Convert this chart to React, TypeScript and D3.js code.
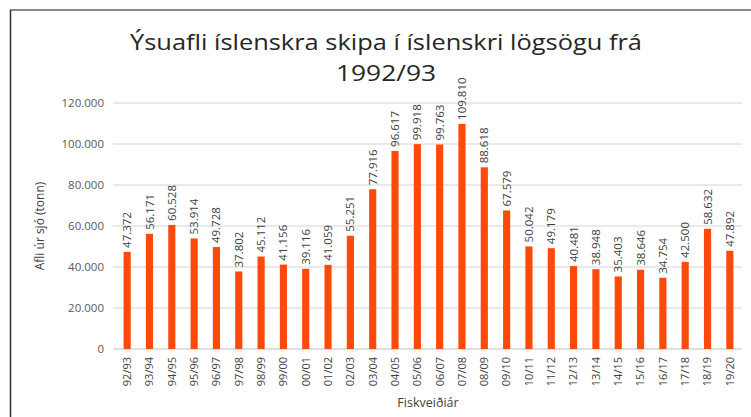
import React from "react";
import * as d3 from "d3";

const categories = ["92/93","93/94","94/95","95/96","96/97","97/98","98/99","99/00","00/01","01/02","02/03","03/04","04/05","05/06","06/07","07/08","08/09","09/10","10/11","11/12","12/13","13/14","14/15","15/16","16/17","17/18","18/19","19/20"];
const values = [47372,56171,60528,53914,49728,37802,45112,41156,39116,41059,55251,77916,96617,99918,99763,109810,88618,67579,50042,49179,40481,38948,35403,38646,34754,42500,58632,47892];
const yTicks = [0,20000,40000,60000,80000,100000,120000];
const titleLines = ["Ýsuafli íslenskra skipa í íslenskri lögsögu frá","1992/93"];
const yTitle = "Afli úr sjó (tonn)";
const xTitle = "Fiskveiðiár";

const W = 751, H = 417;
const fmt = (v: number) => v === 0 ? "0" : d3.format(",")(v).replace(/,/g, ".");

export default function App() {
  const x = d3.scaleBand<string>().domain(categories).range([116, 741]).paddingInner(0.68).paddingOuter(0.34);
  const y = d3.scaleLinear().domain([0, 120000]).range([349, 103]);
  const font = "'Open Sans', 'Liberation Sans', sans-serif";
  const titleLens = [512, 100];
  const titleY = [50, 81];
  return (
    <svg width={W} height={H} style={{ position: "absolute", left: 0, top: 0, background: "#fff" }} fontFamily={font}>
      <rect x={0} y={0} width={W} height={H} fill="#fff" />
      <line x1={10} x2={W} y1={10} y2={10} stroke="#8a8a8a" strokeWidth={2} />
      <line x1={10.5} x2={10.5} y1={10} y2={H} stroke="#333" strokeWidth={1.5} />
      {titleLines.map((t, i) => (
        <text key={i} x={386} y={titleY[i]} textAnchor="middle" fontSize={22} fill="#262626"
          textLength={titleLens[i]} lengthAdjust="spacingAndGlyphs">{t}</text>
      ))}
      {yTicks.map((t) => (
        <g key={t}>
          <line x1={113} x2={742} y1={y(t)} y2={y(t)} stroke={t === 0 ? "#bfbfbf" : "#d4d4d4"} strokeWidth={1} />
          <text x={104} y={y(t)} dy="0.35em" textAnchor="end" fontSize={11.5} fill="#595959">{fmt(t)}</text>
        </g>
      ))}
      {categories.map((c, i) => {
        const cx = x(c)! + x.bandwidth() / 2;
        return (
          <g key={c}>
            <rect x={x(c)} y={y(values[i])} width={x.bandwidth()} height={y(0) - y(values[i])} fill="#fd4a0a" />
            <text transform={`translate(${cx},${y(values[i]) - 4}) rotate(-90)`} dy="0.35em" textAnchor="start" fontSize={11.5} fill="#404040">{fmt(values[i])}</text>
            <text transform={`translate(${cx},${357}) rotate(-90)`} dy="0.35em" textAnchor="end" fontSize={11} fill="#404040">{c}</text>
          </g>
        );
      })}
      <text transform={`translate(40,226) rotate(-90)`} dy="0.35em" textAnchor="middle" fontSize={12} fill="#404040">{yTitle}</text>
      <text x={428} y={407} textAnchor="middle" fontSize={12.5} fill="#404040">{xTitle}</text>
    </svg>
  );
}
